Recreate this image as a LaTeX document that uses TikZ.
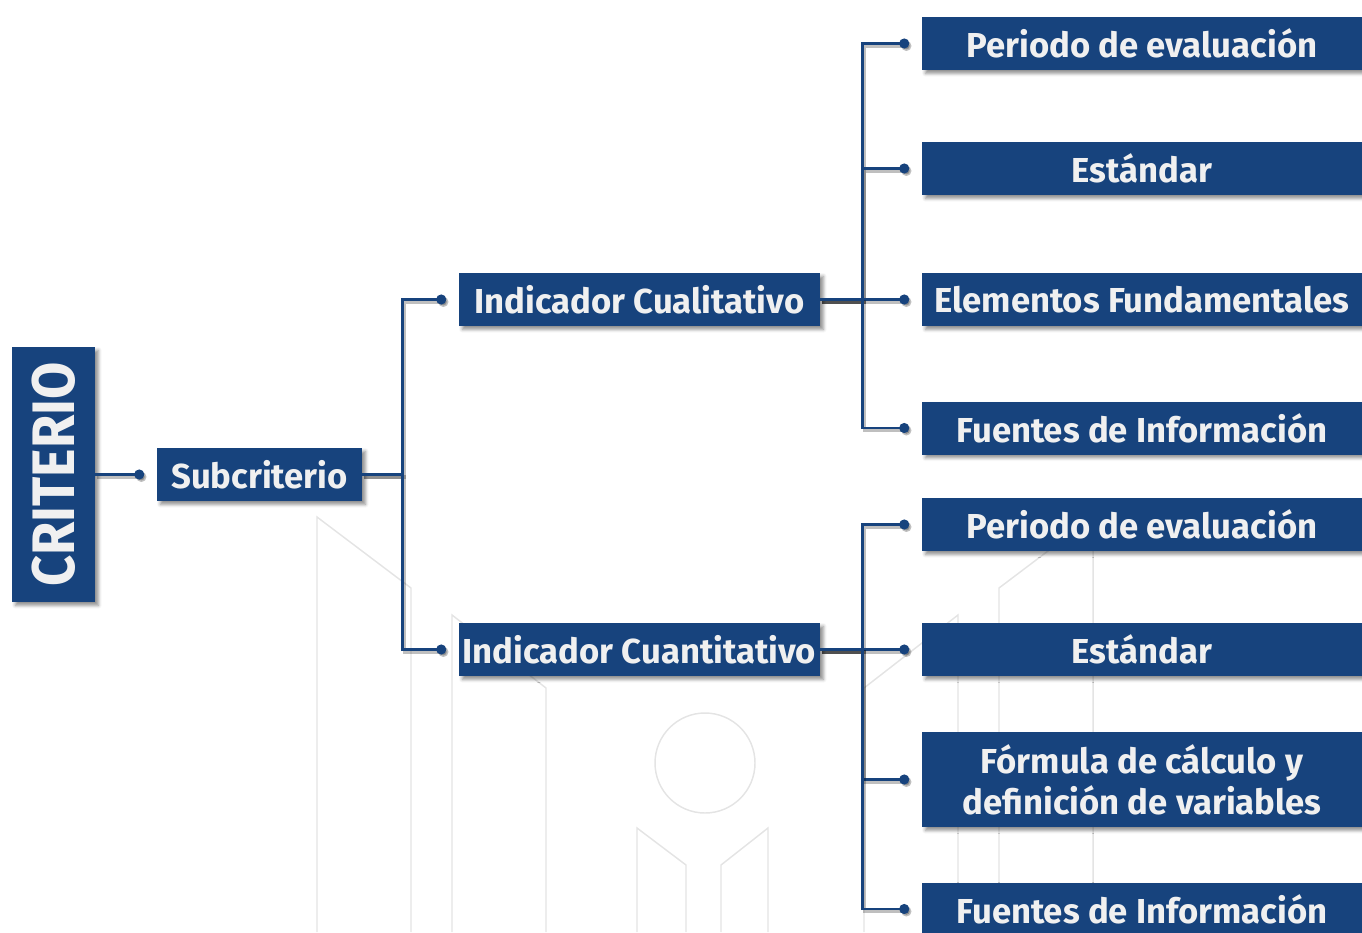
\documentclass[tikz,border=0pt]{standalone}
\usepackage{fontspec}
\setmainfont{Fira Sans}
\newfontfamily\critfont{Fira Sans}[FakeStretch=0.9]
\usepackage{tikz}
\usetikzlibrary{positioning,calc,arrows.meta,shadows.blur}
\definecolor{critblue}{RGB}{23,67,125}
\definecolor{boxtext}{RGB}{240,240,240}
\definecolor{markgray}{RGB}{228,228,228}

\begin{document}
\begin{tikzpicture}[
    x=0.75pt, y=-0.75pt,
    box/.style={rectangle, fill=critblue, text=boxtext, inner sep=0pt, align=center,
        minimum height=39.75pt, font=\bfseries\fontsize{26}{30}\selectfont,
        blur shadow={shadow xshift=2.5pt, shadow yshift=-2.5pt, shadow blur radius=2.5pt, shadow opacity=45}},
    leaf/.style={box, minimum width=330pt, font=\bfseries\fontsize{26}{31}\selectfont},
    link/.style={critblue, line width=1.9pt, -{Circle[length=7.5pt]},
        preaction={draw=black, opacity=0.25, line width=2.4pt, transform canvas={shift={(1.6pt,-1.8pt)}}}},
    wmark/.style={draw=markgray, line width=1.1pt}
]
    \useasboundingbox (0,0) rectangle (1362,932);

    % Watermark
    \draw[wmark] (317,932) -- (317,517) -- (411,588) -- (411,932);
    \draw[wmark] (452,932) -- (452,615) -- (546,688) -- (546,932);
    \draw[wmark] (1093,932) -- (1093,517) -- (999,588) -- (999,932);
    \draw[wmark] (958,932) -- (958,615) -- (864,688) -- (864,932);
    \draw[wmark] (637,932) -- (637,828) -- (686,865) -- (686,932);
    \draw[wmark] (768,932) -- (768,828) -- (721,865) -- (721,932);
    \draw[wmark] (705,763) circle[radius=50];

    % Criterio and subcriterio
    \node[box, minimum width=62.25pt, minimum height=191.25pt, font=\critfont\bfseries\fontsize{45}{45}\selectfont]
        (crit) at (53.5,474.5) {\rotatebox{90}{CRITERIO}};
    \node[box, minimum width=153.75pt] (sub) at (259.5,474.5) {Subcriterio};

    % Indicadores
    \node[box, minimum width=270.75pt] (icual) at (639.5,299.5) {Indicador Cualitativo};
    \node[box, minimum width=270.75pt] (icuan) at (639.5,649.5) {Indicador Cuantitativo};

    % Cualitativo components
    \node[leaf] (c1) at (1142,43.5) {Periodo de evaluación};
    \node[leaf] (c2) at (1142,168.5) {Estándar};
    \node[leaf] (c3) at (1142,299.5) {Elementos Fundamentales};
    \node[leaf] (c4) at (1142,428) {Fuentes de Información};

    % Cuantitativo components
    \node[leaf] (q1) at (1142,524.5) {Periodo de evaluación};
    \node[leaf] (q2) at (1142,649.5) {Estándar};
    \node[leaf, minimum height=71.25pt] (q3) at (1142,779.5) {Fórmula de cálculo y\\definición de variables};
    \node[leaf] (q4) at (1142,909) {Fuentes de Información};

    % Connectors
    \draw[link] (crit.east) -- ($(sub.west)+(-12.5,0)$);
    \foreach \n in {icual,icuan}
        \draw[link] (sub.east) -- ++(40,0) |- ($(\n.west)+(-12.5,0)$);
    \foreach \n in {c1,c2,c3,c4}
        \draw[link] (icual.east) -- ++(42,0) |- ($(\n.west)+(-12.5,0)$);
    \foreach \n in {q1,q2,q3,q4}
        \draw[link] (icuan.east) -- ++(42,0) |- ($(\n.west)+(-12.5,0)$);
\end{tikzpicture}
\end{document}
